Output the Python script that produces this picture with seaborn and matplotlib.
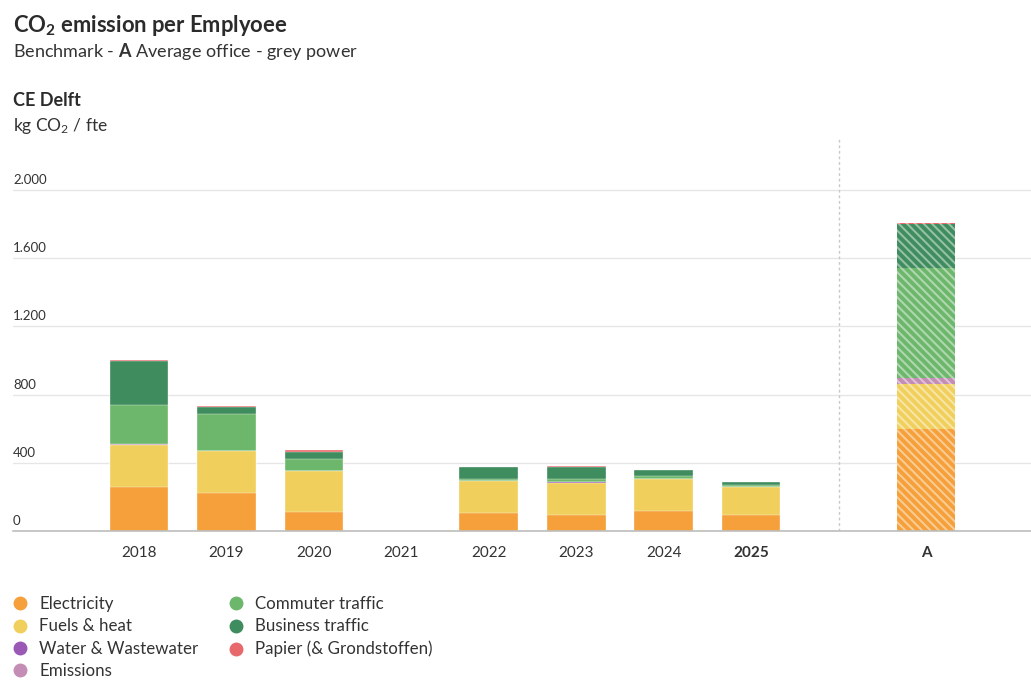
import numpy as np
import pandas as pd
import matplotlib
matplotlib.use("Agg")
import matplotlib.pyplot as plt
import matplotlib.transforms as mtransforms
import seaborn as sns

# ---------------- data ----------------
categories = ["2018", "2019", "2020", "2021", "2022", "2023", "2024", "2025", "gap", "A"]
tick_labels = ["2018", "2019", "2020", "2021", "2022", "2023", "2024", "2025", "", "A"]
series = ["Electricity", "Fuels & heat", "Water & Wastewater", "Emissions",
          "Commuter traffic", "Business traffic", "Papier (& Grondstoffen)"]
nan = np.nan
electricity = [258, 225, 111, nan, 107, 96, 117, 92, nan, 596]
fuels_heat  = [246, 242, 243, nan, 188, 187, 186, 168, nan, 264]
water       = [2,   0,   0,   nan, 0,   3,   0,   0,   nan, 0]
emissions   = [3,   0,   0,   nan, 0,   0,   0,   0,   nan, 39]
commuter    = [230, 221, 66,  nan, 10,  17,  20,  12,  nan, 642]
business    = [258, 37,  45,  nan, 68,  74,  35,  17,  nan, 258]
papier      = [8,   6,   8,   nan, 0,   4,   0,   0,   nan, 6]
yticks = [0, 400, 800, 1200, 1600, 2000]
ytick_labels = ["0", "400", "800", "1.200", "1.600", "2.000"]

colors = ["#F5A03A", "#F0CF5C", "#9B59B6", "#C48DB5", "#6DB76C", "#3F8C5E", "#E8696B"]

# ---------------- style ----------------
sns.set_theme(style="white")
plt.rcParams["font.family"] = ["Lato", "DejaVu Sans"]
plt.rcParams["mathtext.fontset"] = "custom"
plt.rcParams["mathtext.rm"] = "Lato"
plt.rcParams["mathtext.bf"] = "Lato:bold"
plt.rcParams["mathtext.it"] = "Lato:italic"
plt.rcParams["hatch.linewidth"] = 1.5

fig = plt.figure(figsize=(10.31, 6.80), dpi=100)
W, H = 1031, 680
ax = fig.add_axes([13 / W, 1 - 531 / H, 1 - 13 / W, (531 - 139) / H])

values = [electricity, fuels_heat, water, emissions, commuter, business, papier]
df = pd.DataFrame({s: v for s, v in zip(series, values)})
df["cat"] = categories
cum = df[series].cumsum(axis=1)

# draw stacked bars: tallest cumulative first
for i in reversed(range(len(series))):
    sub = pd.DataFrame({"cat": categories, "val": cum[series[i]].values})
    sns.barplot(data=sub, x="cat", y="val", order=categories, color=colors[i],
                saturation=1, width=0.67, ax=ax, edgecolor="white", linewidth=0.25,
                errorbar=None)

# hatch the benchmark bar
def lighten(c, f=0.45):
    rgb = np.array(matplotlib.colors.to_rgb(c))
    return tuple(rgb + (1 - rgb) * f)

idx_A = categories.index("A")
for p in ax.patches:
    cx = p.get_x() + p.get_width() / 2
    if abs(cx - idx_A) < 0.1:
        fc = p.get_facecolor()
        p.set_hatch("\\\\\\\\")
        p.set_edgecolor(lighten(fc, 0.45))
        p.set_linewidth(0)

# axes styling
ax.set_ylim(0, (531 - 139) * 2000 / (531 - 190))
ax.set_xlim(-1.44, 10.2)
ax.set_yticks(yticks)
ax.set_yticklabels([])
ax.tick_params(axis="y", length=0)
ax.yaxis.grid(True, color="#e6e6e6", linewidth=1)
ax.set_axisbelow(True)
for s in ["top", "right", "left"]:
    ax.spines[s].set_visible(False)
ax.spines["bottom"].set_color("#bdbdbd")
ax.spines["bottom"].set_linewidth(1.2)
ax.set_xlabel("")
ax.set_ylabel("")
ax.set_xticks(range(len(categories)))
ax.set_xticklabels(tick_labels, fontsize=11, color="#333333")
ax.tick_params(axis="x", length=0, pad=11)
for lbl in ax.get_xticklabels():
    if lbl.get_text() in ("2025", "A"):
        lbl.set_fontweight("bold")

ytrans = ax.get_yaxis_transform() + mtransforms.ScaledTranslation(0, 4 / 100, fig.dpi_scale_trans)
for v, t in zip(yticks, ytick_labels):
    ax.text(0, v, t, transform=ytrans, ha="left", va="bottom",
            fontsize=9.5, color="#333333")
ax.axvline(categories.index("gap"), color="#c8c8c8", linestyle=(0, (2, 2)), linewidth=1)

# ---------------- texts ----------------
fig.text(13 / W, 1 - 25 / H, r"CO$_\mathbf{2}$ emission per Emplyoee", fontsize=15.8,
         fontweight="bold", color="#2b2b2b", va="center", ha="left")
fig.text(13 / W, 1 - 52 / H, r"Benchmark - $\mathbf{A}$ Average office - grey power",
         fontsize=13, color="#333333", va="center", ha="left")
fig.text(13 / W, 1 - 101 / H, "CE Delft", fontsize=13, fontweight="bold",
         color="#2b2b2b", va="center", ha="left")
fig.text(13 / W, 1 - 126 / H, r"kg CO$_2$ / fte", fontsize=12.5, color="#333333",
         va="center", ha="left")

# ---------------- legend ----------------
handles = [plt.Line2D([], [], marker="o", linestyle="", markersize=9,
                      markerfacecolor=c, markeredgecolor=c) for c in colors]
fig.legend(handles, series, ncol=2, loc="upper left",
           bbox_to_anchor=(13 / W, 1 - 596 / H), frameon=False, fontsize=12.2,
           handletextpad=0.75, columnspacing=1.8, labelspacing=0.38,
           handlelength=0.8, borderaxespad=0, borderpad=0,
           labelcolor="#333333")

fig.savefig("out.png", dpi=100)
